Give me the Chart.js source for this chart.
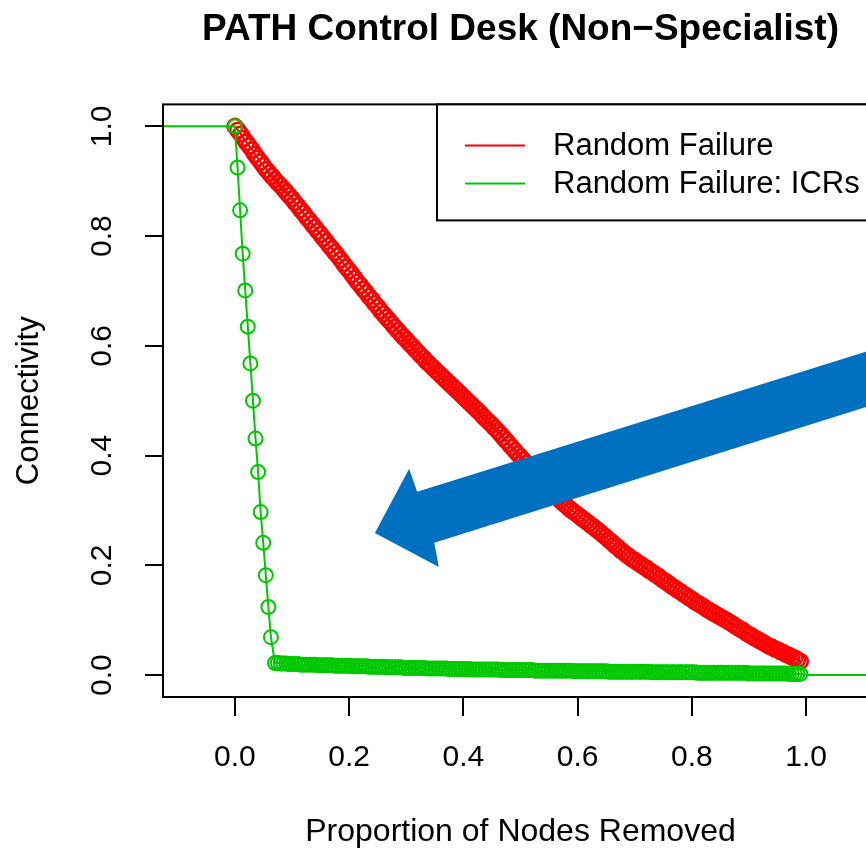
<!DOCTYPE html>
<html>
<head>
<meta charset="utf-8">
<script src="https://cdn.jsdelivr.net/npm/chart.js@4.4.1/dist/chart.umd.min.js"></script>
<style>
  html, body { margin: 0; padding: 0; overflow: hidden; background: #fff; }
</style>
</head>
<body>
<canvas id="chart" width="1000" height="849"></canvas>
<script>
// tick labels
const xTicks = [0, 0.2, 0.4, 0.6, 0.8, 1.0];
const yTicks = [0, 0.2, 0.4, 0.6, 0.8, 1.0];

// Random Failure (red) - proportion removed / connectivity
const redX = [
  0.000,0.005,0.010,0.015,0.020,0.025,0.030,0.035,0.040,0.045,0.050,0.055,0.060,0.065,0.070,0.075,0.080,0.085,0.090,0.095,
  0.100,0.105,0.110,0.115,0.120,0.125,0.130,0.135,0.140,0.145,0.150,0.155,0.160,0.165,0.170,0.175,0.180,0.185,0.190,0.195,
  0.200,0.205,0.210,0.215,0.220,0.225,0.230,0.235,0.240,0.245,0.250,0.255,0.260,0.265,0.270,0.275,0.280,0.285,0.290,0.295,
  0.300,0.305,0.310,0.315,0.320,0.325,0.330,0.335,0.340,0.345,0.350,0.355,0.360,0.365,0.370,0.375,0.380,0.385,0.390,0.395,
  0.400,0.405,0.410,0.415,0.420,0.425,0.430,0.435,0.440,0.445,0.450,0.455,0.460,0.465,0.470,0.475,0.480,0.485,0.490,0.495,
  0.500,0.505,0.510,0.515,0.520,0.525,0.530,0.535,0.540,0.545,0.550,0.555,0.560,0.565,0.570,0.575,0.580,0.585,0.590,0.595,
  0.600,0.605,0.610,0.615,0.620,0.625,0.630,0.635,0.640,0.645,0.650,0.655,0.660,0.665,0.670,0.675,0.680,0.685,0.690,0.695,
  0.700,0.705,0.710,0.715,0.720,0.725,0.730,0.735,0.740,0.745,0.750,0.755,0.760,0.765,0.770,0.775,0.780,0.785,0.790,0.795,
  0.800,0.805,0.810,0.815,0.820,0.825,0.830,0.835,0.840,0.845,0.850,0.855,0.860,0.865,0.870,0.875,0.880,0.885,0.890,0.895,
  0.900,0.905,0.910,0.915,0.920,0.925,0.930,0.935,0.940,0.945,0.950,0.955,0.960,0.965,0.970,0.975,0.980,0.985,0.990];
const redY = [
  1.000,0.993,0.986,0.978,0.971,0.964,0.957,0.949,0.942,0.935,0.928,0.921,0.915,0.909,0.903,0.897,0.892,0.886,0.880,0.874,
  0.868,0.861,0.855,0.848,0.842,0.835,0.829,0.822,0.816,0.809,0.803,0.796,0.790,0.783,0.777,0.770,0.764,0.757,0.750,0.743,
  0.737,0.730,0.723,0.716,0.710,0.703,0.697,0.690,0.684,0.677,0.671,0.664,0.658,0.652,0.646,0.640,0.634,0.628,0.622,0.616,
  0.611,0.605,0.600,0.594,0.589,0.583,0.578,0.572,0.567,0.562,0.557,0.552,0.547,0.542,0.537,0.532,0.527,0.522,0.517,0.512,
  0.507,0.502,0.497,0.492,0.487,0.482,0.477,0.471,0.466,0.461,0.456,0.450,0.445,0.439,0.433,0.427,0.421,0.415,0.409,0.403,
  0.398,0.392,0.386,0.380,0.374,0.368,0.362,0.356,0.350,0.344,0.339,0.333,0.328,0.323,0.318,0.313,0.309,0.304,0.300,0.296,
  0.292,0.288,0.284,0.280,0.276,0.272,0.268,0.264,0.260,0.255,0.251,0.246,0.242,0.237,0.233,0.228,0.224,0.220,0.216,0.212,
  0.209,0.205,0.202,0.198,0.195,0.191,0.188,0.184,0.181,0.177,0.173,0.170,0.166,0.162,0.159,0.155,0.152,0.148,0.145,0.141,
  0.138,0.134,0.131,0.128,0.125,0.121,0.118,0.115,0.112,0.109,0.106,0.103,0.100,0.097,0.094,0.090,0.087,0.084,0.081,0.077,
  0.074,0.071,0.068,0.065,0.062,0.059,0.056,0.053,0.051,0.048,0.046,0.043,0.041,0.038,0.036,0.033,0.031,0.028,0.025];

// Random Failure: ICRs (green)
const greenX = [
  0.0000,0.0045,0.0090,0.0135,0.0180,0.0225,0.0270,0.0315,0.0360,0.0405,0.0450,0.0495,0.0540,0.0585,0.0630,
  0.070,0.075,0.080,0.085,0.090,0.095,0.100,0.105,0.110,0.115,0.120,0.125,0.130,0.135,0.140,0.145,0.150,0.155,0.160,0.165,
  0.170,0.175,0.180,0.185,0.190,0.195,0.200,0.205,0.210,0.215,0.220,0.225,0.230,0.235,0.240,0.245,0.250,0.255,0.260,0.265,
  0.270,0.275,0.280,0.285,0.290,0.295,0.300,0.305,0.310,0.315,0.320,0.325,0.330,0.335,0.340,0.345,0.350,0.355,0.360,0.365,
  0.370,0.375,0.380,0.385,0.390,0.395,0.400,0.405,0.410,0.415,0.420,0.425,0.430,0.435,0.440,0.445,0.450,0.455,0.460,0.465,
  0.470,0.475,0.480,0.485,0.490,0.495,0.500,0.505,0.510,0.515,0.520,0.525,0.530,0.535,0.540,0.545,0.550,0.555,0.560,0.565,
  0.570,0.575,0.580,0.585,0.590,0.595,0.600,0.605,0.610,0.615,0.620,0.625,0.630,0.635,0.640,0.645,0.650,0.655,0.660,0.665,
  0.670,0.675,0.680,0.685,0.690,0.695,0.700,0.705,0.710,0.715,0.720,0.725,0.730,0.735,0.740,0.745,0.750,0.755,0.760,0.765,
  0.770,0.775,0.780,0.785,0.790,0.795,0.800,0.805,0.810,0.815,0.820,0.825,0.830,0.835,0.840,0.845,0.850,0.855,0.860,0.865,
  0.870,0.875,0.880,0.885,0.890,0.895,0.900,0.905,0.910,0.915,0.920,0.925,0.930,0.935,0.940,0.945,0.950,0.955,0.960,0.965,
  0.970,0.975,0.980,0.985,0.990];
const greenY = [
  1.000,0.925,0.847,0.768,0.701,0.635,0.568,0.500,0.431,0.370,0.297,0.241,0.182,0.124,0.069,
  0.022,0.022,0.021,0.021,0.021,0.020,0.020,0.020,0.020,0.019,0.019,0.019,0.019,0.019,0.019,0.018,0.018,0.018,0.018,0.018,
  0.018,0.017,0.017,0.017,0.017,0.017,0.017,0.016,0.016,0.016,0.016,0.016,0.016,0.015,0.015,0.015,0.015,0.015,0.015,0.014,
  0.014,0.014,0.014,0.014,0.014,0.013,0.013,0.013,0.013,0.013,0.013,0.013,0.013,0.012,0.012,0.012,0.012,0.012,0.012,0.012,
  0.012,0.011,0.011,0.011,0.011,0.011,0.011,0.011,0.011,0.010,0.010,0.010,0.010,0.010,0.010,0.010,0.010,0.010,0.010,0.009,
  0.009,0.009,0.009,0.009,0.009,0.009,0.009,0.009,0.009,0.009,0.009,0.008,0.008,0.008,0.008,0.008,0.008,0.008,0.008,0.008,
  0.008,0.008,0.008,0.008,0.008,0.007,0.007,0.007,0.007,0.007,0.007,0.007,0.007,0.007,0.007,0.007,0.007,0.006,0.006,0.006,
  0.006,0.006,0.006,0.006,0.006,0.006,0.006,0.006,0.006,0.006,0.006,0.006,0.005,0.005,0.005,0.005,0.005,0.005,0.005,0.005,
  0.005,0.005,0.005,0.005,0.005,0.005,0.005,0.005,0.004,0.004,0.004,0.004,0.004,0.004,0.004,0.004,0.004,0.004,0.004,0.004,
  0.004,0.004,0.004,0.004,0.004,0.004,0.003,0.003,0.003,0.003,0.003,0.003,0.003,0.003,0.003,0.003,0.003,0.003,0.003,0.003,
  0.002,0.002,0.002,0.002,0.002];

// green line running on past the data at both ends
const greenLeadX = [-0.3, 0];
const greenLeadY = [1, 1];
const greenTailX = [0.99, 1.0, 1.3];
const greenTailY = [0.002, 0, 0];

// blue call-out arrow, in data units
const arrowX = [1.165, 0.319, 0.305, 0.245, 0.357, 0.349, 1.165];
const arrowY = [0.609, 0.334, 0.376, 0.259, 0.197, 0.241, 0.508];

const RED = '#ff0000';
const GREEN = '#00c800';
const FONT = "'Liberation Sans', Arial, Helvetica, sans-serif";

const pts = (xs, ys) => xs.map((x, i) => ({ x: x, y: ys[i] }));

Chart.defaults.font.family = FONT;
Chart.defaults.color = '#000';

const rPlot = {
  id: 'rPlot',
  afterDraw(chart) {
    const ctx = chart.ctx;
    const ca = chart.chartArea;
    const xs = chart.scales.x, ys = chart.scales.y;

    // plot box
    ctx.save();
    ctx.strokeStyle = '#000';
    ctx.lineWidth = 2;
    ctx.strokeRect(ca.left, ca.top, ca.right - ca.left, ca.bottom - ca.top);

    // y tick labels, rotated like R
    ctx.fillStyle = '#000';
    ctx.font = '30px ' + FONT;
    ctx.textAlign = 'center';
    ctx.textBaseline = 'middle';
    yTicks.forEach(v => {
      ctx.save();
      ctx.translate(103, ys.getPixelForValue(v));
      ctx.rotate(-Math.PI / 2);
      ctx.fillText(v.toFixed(1), 0, 0);
      ctx.restore();
    });

    // legend (topright)
    const lw = 441, lh = 116;
    const lx = ca.right - lw, ly = ca.top;
    ctx.fillStyle = '#fff';
    ctx.fillRect(lx, ly, lw, lh);
    ctx.strokeRect(lx, ly, lw, lh);
    ctx.font = '31px ' + FONT;
    ctx.textAlign = 'left';
    const items = chart.data.datasets.filter(d => d.inLegend);
    items.forEach((d, i) => {
      const yy = ly + 41 + i * 38;
      ctx.strokeStyle = d.borderColor;
      ctx.lineWidth = 2;
      ctx.beginPath();
      ctx.moveTo(lx + 28, yy);
      ctx.lineTo(lx + 88, yy);
      ctx.stroke();
      ctx.fillStyle = '#000';
      ctx.fillText(d.label, lx + 116, yy + 1);
    });

    // arrow
    ctx.fillStyle = '#0070c0';
    ctx.beginPath();
    arrowX.forEach((x, i) => {
      const px = xs.getPixelForValue(x), py = ys.getPixelForValue(arrowY[i]);
      if (i === 0) ctx.moveTo(px, py); else ctx.lineTo(px, py);
    });
    ctx.closePath();
    ctx.fill();
    ctx.restore();
  }
};

new Chart(document.getElementById('chart'), {
  type: 'scatter',
  data: {
    datasets: [
      {
        label: 'Random Failure',
        inLegend: true,
        data: pts(redX, redY),
        showLine: true,
        borderColor: RED,
        borderWidth: 2,
        pointRadius: 7.5,
        pointBorderWidth: 2.5,
        pointBorderColor: RED,
        pointBackgroundColor: 'rgba(0,0,0,0)',
        order: 3
      },
      {
        label: 'Random Failure: ICRs',
        inLegend: true,
        data: pts(greenX, greenY),
        showLine: true,
        borderColor: GREEN,
        borderWidth: 2,
        pointRadius: 7,
        pointBorderWidth: 2,
        pointBorderColor: GREEN,
        pointBackgroundColor: 'rgba(0,0,0,0)',
        order: 1
      },
      {
        label: 'lead',
        data: pts(greenLeadX, greenLeadY),
        showLine: true,
        borderColor: GREEN,
        borderWidth: 2,
        pointRadius: 0,
        order: 2
      },
      {
        label: 'tail',
        data: pts(greenTailX, greenTailY),
        showLine: true,
        borderColor: GREEN,
        borderWidth: 2,
        pointRadius: 0,
        order: 2
      }
    ]
  },
  options: {
    responsive: false,
    animation: false,
    layout: { padding: { left: 0, top: 0, right: 122, bottom: 0 } },
    plugins: {
      legend: { display: false },
      tooltip: { enabled: false },
      title: {
        display: true,
        fullSize: false,
        text: 'PATH Control Desk (Non\u2212Specialist)',
        font: { size: 37, weight: 'bold' },
        color: '#000',
        padding: { top: 8, bottom: 52 }
      }
    },
    scales: {
      x: {
        type: 'linear',
        min: -0.126,
        max: 1.126,
        afterBuildTicks: s => { s.ticks = xTicks.map(v => ({ value: v })); },
        afterFit: s => { s.height = 152; },
        border: { display: false },
        grid: { drawOnChartArea: false, drawTicks: true, tickLength: 19, color: '#000', lineWidth: 2 },
        ticks: { font: { size: 30 }, color: '#000', padding: 24, maxRotation: 0, autoSkip: false,
                 callback: v => v.toFixed(1) },
        title: { display: true, text: 'Proportion of Nodes Removed', font: { size: 32 }, color: '#000',
                 padding: { top: 0, bottom: -2 } }
      },
      y: {
        min: -0.04,
        max: 1.04,
        afterBuildTicks: s => { s.ticks = yTicks.map(v => ({ value: v })); },
        afterFit: s => { s.width = 163; },
        border: { display: false },
        grid: { drawOnChartArea: false, drawTicks: true, tickLength: 18, color: '#000', lineWidth: 2 },
        ticks: { display: false },
        title: { display: true, text: 'Connectivity', font: { size: 31 }, color: '#000',
                 padding: { top: 11, bottom: 0 } }
      }
    }
  },
  plugins: [rPlot]
});
</script>
</body>
</html>
